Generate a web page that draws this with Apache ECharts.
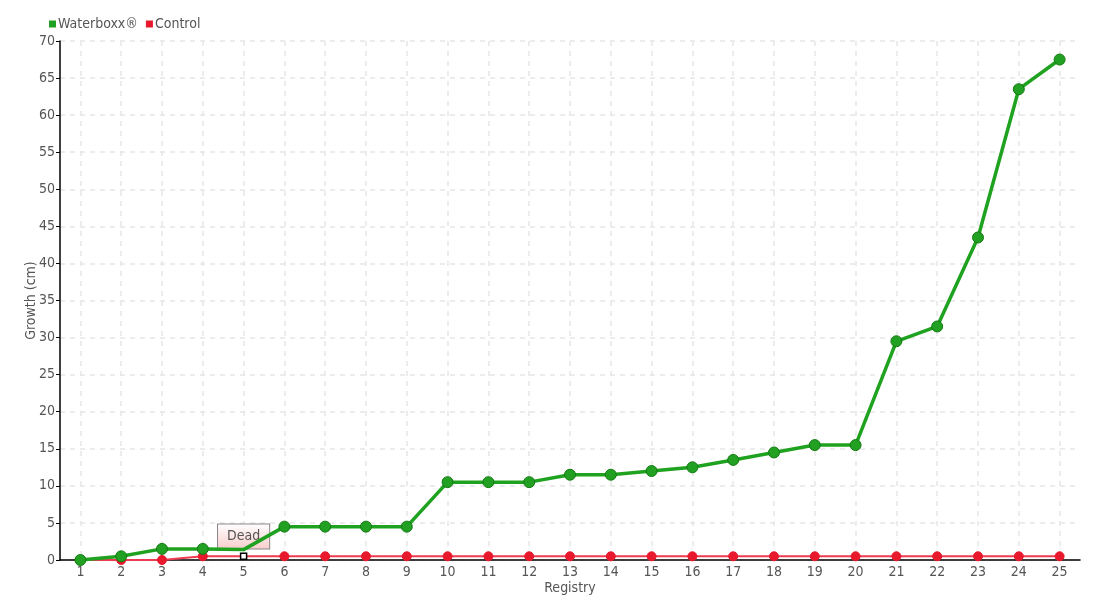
<!DOCTYPE html>
<html><head><meta charset="utf-8">
<script src="https://cdn.jsdelivr.net/npm/echarts@6/dist/echarts.min.js"></script>
<style>html,body{margin:0;padding:0;background:#fff}#c{width:1100px;height:600px}</style>
</head><body><div id="c"></div>
<script>
var categories = ['1','2','3','4','5','6','7','8','9','10','11','12','13','14','15','16','17','18','19','20','21','22','23','24','25'];
var waterboxx = [0,0.5,1.5,1.5,1.4,4.5,4.5,4.5,4.5,10.5,10.5,10.5,11.5,11.5,12,12.5,13.5,14.5,15.5,15.5,29.5,31.5,43.5,63.5,67.5];
var control = [0,0,0,0.5,0.5,0.5,0.5,0.5,0.5,0.5,0.5,0.5,0.5,0.5,0.5,0.5,0.5,0.5,0.5,0.5,0.5,0.5,0.5,0.5,0.5];
var deadIndex = 4;
var deadLabel = 'Dead';

var FONT = '"Liberation Sans Narrow","DejaVu Sans Condensed","Roboto",sans-serif';
var chart = echarts.init(document.getElementById('c'));
var wbData = waterboxx.map(function(v,i){
  return i === deadIndex ? {value:v, symbol:'none'} : v;
});
var ctData = control.map(function(v,i){
  if (i === deadIndex) {
    return {value:v, symbol:'rect', symbolSize:6,
      itemStyle:{color:'#fff', borderColor:'#000', borderWidth:1.5},
      label:{show:true, position:'top', distance:4, formatter:deadLabel,
        fontFamily:FONT, fontSize:14, color:'#555',
        backgroundColor:new echarts.graphic.LinearGradient(0,0,0,1,[{offset:0,color:'#ffffff'},{offset:1,color:'#f8cccc'}]),
        borderColor:'#888', borderWidth:1, padding:[5,9,5,9]}};
  }
  return v;
});
chart.setOption({
  animation:false,
  textStyle:{fontFamily:FONT},
  legend:{left:44, top:12, icon:'rect', itemWidth:7, itemHeight:7, itemGap:8,
    itemStyle:{borderWidth:0},
    textStyle:{fontFamily:FONT, fontSize:14, color:'#555', padding:[0,0,0,-3]},
    data:['Waterboxx®','Control']},
  grid:{left:60, right:20, top:41, bottom:40, containLabel:false},
  xAxis:{type:'category', data:categories, boundaryGap:true,
    name:'Registry', nameLocation:'middle', nameGap:21, nameMoveOverlap:false,
    nameTextStyle:{fontFamily:FONT, fontSize:14, color:'#555'},
    axisLine:{lineStyle:{color:'#000', width:1.5}},
    axisTick:{show:false},
    axisLabel:{fontFamily:FONT, fontSize:14, color:'#555', margin:5},
    splitLine:{show:true, alignWithLabel:true, lineStyle:{color:'#e6e6e6', type:[5,5], width:1.5}}},
  yAxis:{type:'value', min:0, max:70, interval:5,
    name:'Growth (cm)', nameLocation:'middle', nameGap:22, nameMoveOverlap:false,
    nameTextStyle:{fontFamily:FONT, fontSize:14, color:'#555'},
    axisLine:{show:true, lineStyle:{color:'#000', width:1.5}},
    axisTick:{show:true, length:4, lineStyle:{color:'#000'}},
    axisLabel:{fontFamily:FONT, fontSize:14, color:'#555', margin:5},
    splitLine:{show:true, lineStyle:{color:'#e6e6e6', type:[5,5], width:1.5}}},
  series:[
    {name:'Waterboxx®', type:'line', data:wbData, symbol:'circle', symbolSize:11,
      lineStyle:{color:'#1fa21f', width:3.5},
      itemStyle:{color:'#22a022', borderColor:'#137a13', borderWidth:1},
      z:3},
    {name:'Control', type:'line', data:ctData, symbol:'circle', symbolSize:9,
      lineStyle:{color:'#ee3b50', width:2},
      itemStyle:{color:'#e8192c', borderColor:'#e8192c'},
      z:2}
  ]
});
</script></body></html>
